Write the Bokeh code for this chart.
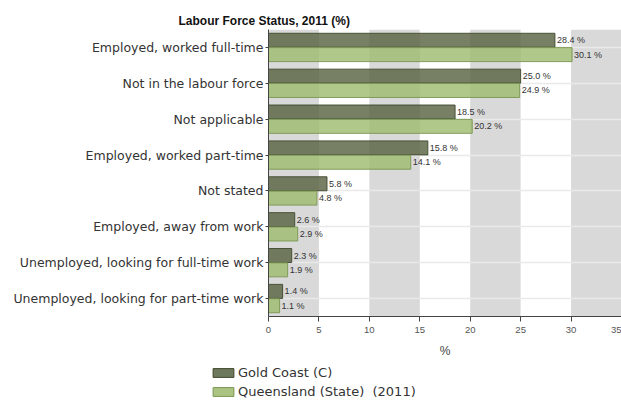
from bokeh.plotting import figure
from bokeh.layouts import column
from bokeh.models import ColumnDataSource, FactorRange, Legend, LegendItem, Range1d, FixedTicker, Title
from bokeh.transform import dodge
from bokeh.core.properties import value
from bokeh.embed import file_html
from bokeh.resources import INLINE

categories = [
    "Employed, worked full-time",
    "Not in the labour force",
    "Not applicable",
    "Employed, worked part-time",
    "Not stated",
    "Employed, away from work",
    "Unemployed, looking for full-time work",
    "Unemployed, looking for part-time work",
]
gold_coast = [28.4, 25.0, 18.5, 15.8, 5.8, 2.6, 2.3, 1.4]
queensland = [30.1, 24.9, 20.2, 14.1, 4.8, 2.9, 1.9, 1.1]
x_ticks = [0, 5, 10, 15, 20, 25, 30, 35]
series_names = ["Gold Coast (C)", "Queensland (State)  (2011)"]

FONT = "Liberation Sans"
WIDE = "DejaVu Sans"

dark_fill = "#55603f"
dark_line = "#3f472c"
light_fill = "#9cba6d"
light_line = "#7a9650"

src = ColumnDataSource(dict(
    cat=categories,
    gc=gold_coast,
    qld=queensland,
    gc_lbl=[f"{v:.1f} %" for v in gold_coast],
    qld_lbl=[f"{v:.1f} %" for v in queensland],
))

p = figure(
    width=621, height=365,
    y_range=FactorRange(*list(reversed(categories)), range_padding=0.0),
    x_range=Range1d(0, 35),
    output_backend="svg", toolbar_location=None,
    min_border_left=268, min_border_right=0, min_border_top=29, min_border_bottom=49,
)
p.frame_align = False
p.title = Title(text="Labour Force Status, 2011 (%)", align="left", offset=-90,
                text_font=FONT, text_font_size="12px", text_font_style="bold",
                text_color="#111111", standoff=4)
p.outline_line_color = None

p.hbar(y=dodge("cat", 0.2, range=p.y_range), right="gc", left=0, height=0.39,
       source=src, fill_color=dark_fill, fill_alpha=0.8, line_color=dark_line, line_alpha=0.9)
p.hbar(y=dodge("cat", -0.2, range=p.y_range), right="qld", left=0, height=0.39,
       source=src, fill_color=light_fill, fill_alpha=0.8, line_color=light_line, line_alpha=0.9)

p.text(x="gc", y=dodge("cat", 0.2, range=p.y_range), text="gc_lbl", source=src,
       x_offset=2, text_baseline="middle", text_font=value(FONT), text_font_size="9px",
       text_color="#333333")
p.text(x="qld", y=dodge("cat", -0.2, range=p.y_range), text="qld_lbl", source=src,
       x_offset=2, text_baseline="middle", text_font=value(FONT), text_font_size="9px",
       text_color="#333333")

# grids: alternate grey bands starting at 0-5 (duplicate first tick shifts the band parity)
p.xgrid.grid_line_color = None
p.xgrid.band_fill_color = "#d9d9d9"
p.xgrid.band_fill_alpha = 1.0
p.xgrid.ticker = FixedTicker(ticks=[x_ticks[0]] + x_ticks)
p.ygrid.grid_line_color = "#e9e9e9"
p.ygrid.grid_line_width = 1.5

# axes
p.xaxis.ticker = FixedTicker(ticks=x_ticks)
p.xaxis.axis_label = "%"
p.xaxis.axis_label_text_font = FONT
p.xaxis.axis_label_text_font_style = "normal"
p.xaxis.axis_label_text_font_size = "12px"
p.xaxis.axis_label_text_color = "#444444"
p.xaxis.axis_label_standoff = 8
p.xaxis.major_label_text_font = FONT
p.xaxis.major_label_text_font_size = "9.5px"
p.xaxis.major_label_text_color = "#555555"
p.xaxis.minor_tick_line_color = None
p.xaxis.major_tick_in = 0
p.xaxis.major_tick_out = 5
p.xaxis.axis_line_color = "#444444"
p.xaxis.major_tick_line_color = "#444444"

p.yaxis.major_label_text_font = WIDE
p.yaxis.major_label_text_font_size = "12.5px"
p.yaxis.major_label_text_color = "#333333"
p.yaxis.axis_line_color = "#444444"
p.yaxis.major_tick_line_color = "#444444"
p.yaxis.major_tick_in = 0
p.yaxis.major_tick_out = 3
p.yaxis.major_label_standoff = 2

# legend figure below the chart (its stand-in glyphs sit outside the visible range)
lg = figure(width=621, height=40, x_range=Range1d(0, 1), y_range=Range1d(0, 1),
            output_backend="svg", toolbar_location=None,
            x_axis_type=None, y_axis_type=None,
            min_border=0, min_border_left=0, min_border_right=0,
            min_border_top=0, min_border_bottom=0)
lg.frame_align = False
lg.outline_line_color = None
lg.grid.visible = False
stand_in = ColumnDataSource(dict(y=[-5], right=[1]))
l1 = lg.hbar(y="y", right="right", left=0, height=0.5, source=stand_in,
             fill_color=dark_fill, fill_alpha=0.85, line_color=dark_line)
l2 = lg.hbar(y="y", right="right", left=0, height=0.5, source=stand_in,
             fill_color=light_fill, fill_alpha=0.85, line_color=light_line)
legend = Legend(
    items=[LegendItem(label=series_names[0], renderers=[l1]),
           LegendItem(label=series_names[1], renderers=[l2])],
    location=(210, 6),
    orientation="vertical",
    background_fill_alpha=0, border_line_color=None,
    label_text_font=WIDE, label_text_font_size="13px", label_text_color="#333333",
    glyph_width=26, glyph_height=11, label_standoff=2, spacing=4,
    padding=2, margin=0, label_height=13,
)
lg.add_layout(legend)

open("out.html", "w").write(file_html(column(p, lg, spacing=0), INLINE))
